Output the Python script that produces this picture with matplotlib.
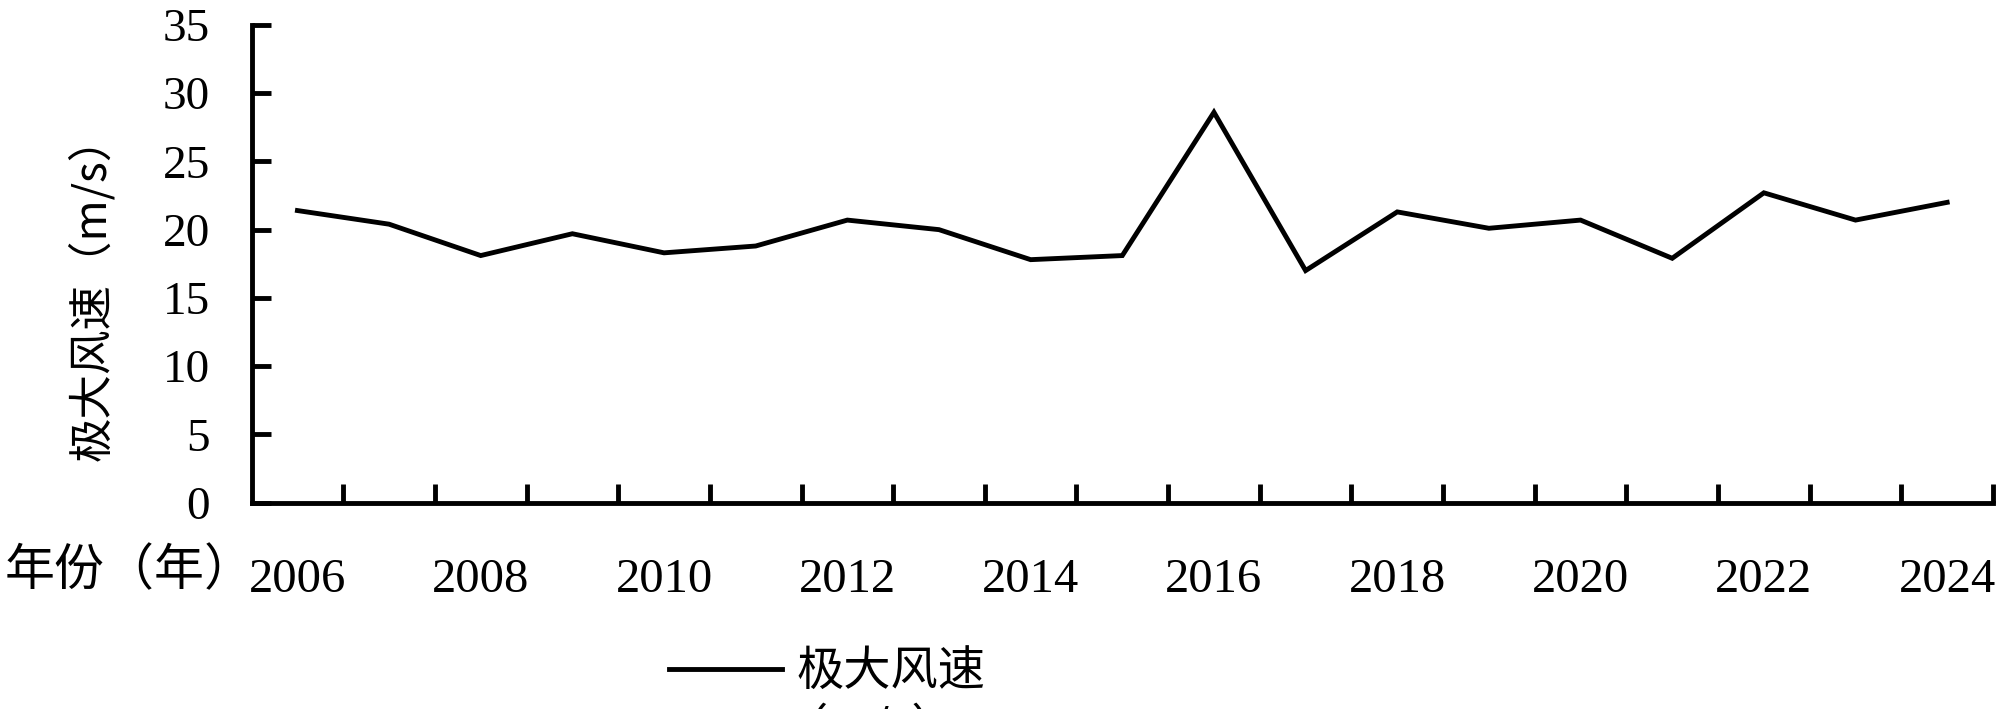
import matplotlib
matplotlib.use("Agg")
from matplotlib import pyplot as plt
from matplotlib.ticker import FixedLocator, NullFormatter
import numpy as np

# data
years = [2006, 2007, 2008, 2009, 2010, 2011, 2012, 2013, 2014, 2015,
         2016, 2017, 2018, 2019, 2020, 2021, 2022, 2023, 2024]
max_wind = [21.4, 20.4, 18.1, 19.7, 18.3, 18.8, 20.7, 20.0, 17.8, 18.1,
            28.6, 17.0, 21.3, 20.1, 20.7, 17.9, 22.7, 20.7, 22.0]
y_ticks = [0, 5, 10, 15, 20, 25, 30, 35]
series_label = "极大风速"
y_label = "极大风速（m/s）"
x_title = "年份（年）"

CJK = ["Noto Sans CJK SC", "DejaVu Sans"]
NUM = "Liberation Serif"

fig = plt.figure(figsize=(20, 7.09), dpi=100)
ax = fig.add_axes([0.1258, 1 - 502.5 / 709, 0.8707, 477.5 / 709])

x = np.arange(len(years))
line, = ax.plot(x, max_wind, color="black", linewidth=3.5, solid_joinstyle="miter")

ax.set_xlim(-0.5, len(years) - 0.5)
ax.set_ylim(0, 35)

# labels on every other year, tick marks on category boundaries
ax.xaxis.set_major_locator(FixedLocator(x[::2]))
ax.set_xticklabels([str(y) for y in years[::2]], fontfamily=NUM, fontsize=35)
ax.xaxis.set_minor_locator(FixedLocator(np.arange(0.5, len(years), 1.0)))
ax.xaxis.set_minor_formatter(NullFormatter())
ax.tick_params(axis="x", which="major", length=0, pad=40)
ax.tick_params(axis="x", which="minor", direction="in", length=13.5, width=3.5)

ax.set_yticks(y_ticks)
ax.set_yticklabels([str(v) for v in y_ticks], fontfamily=NUM, fontsize=34)
ax.tick_params(axis="y", direction="in", length=14, width=3.5, pad=30)

for side in ["top", "right"]:
    ax.spines[side].set_visible(False)
for side in ["left", "bottom"]:
    ax.spines[side].set_linewidth(3.5)

fig.text(92 / 2000, 1 - 288 / 709, y_label, rotation=90, ha="center", va="center",
         fontsize=32, family=CJK)
fig.text(5 / 2000, 1 - 571 / 709, x_title, ha="left", va="center",
         fontsize=36, family=CJK)

leg = fig.legend([line], [series_label], loc="center left",
                 bbox_to_anchor=(650 / 2000, 1 - 672 / 709), frameon=False,
                 handlelength=2.4, handletextpad=0.3, borderaxespad=0,
                 prop={"family": CJK, "size": 34})
# second line of the legend entry, cut off by the bottom edge
fig.text(780 / 2000, 1 - 705 / 709, "（m/s）", ha="left", va="top",
         fontsize=34, family=CJK)

fig.savefig("out.png", dpi=100)
